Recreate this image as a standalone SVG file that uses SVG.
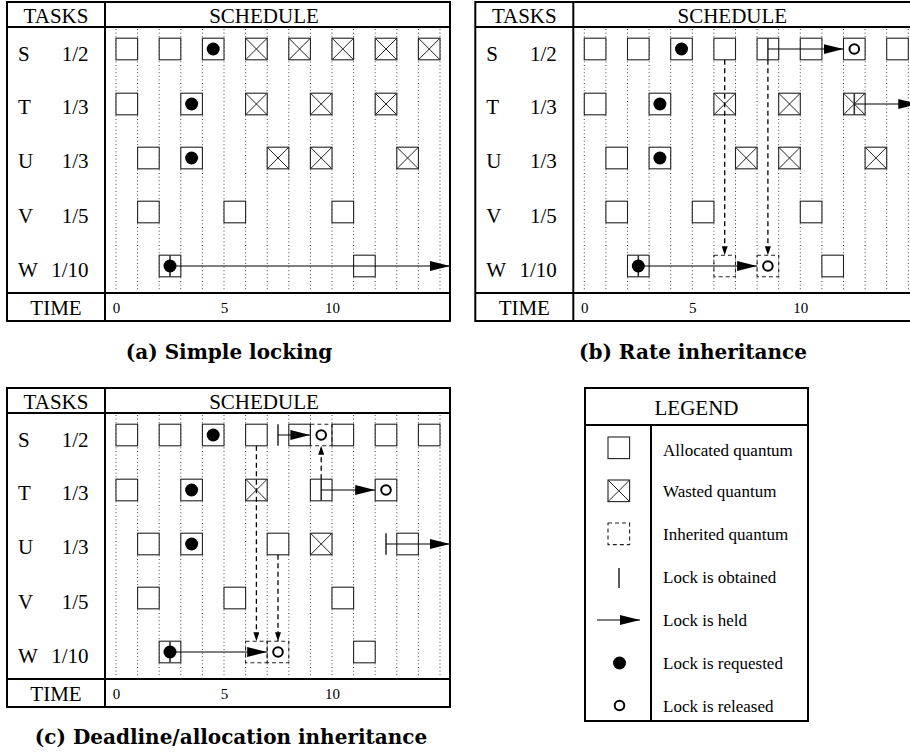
<svg xmlns="http://www.w3.org/2000/svg" xmlns:xlink="http://www.w3.org/1999/xlink" width="910" height="755" viewBox="0 0 910 755">
<style>
.frame{fill:none;stroke:#000;stroke-width:2}
.sep{fill:none;stroke:#000;stroke-width:2}
.grid{fill:none;stroke:#444;stroke-width:1;stroke-dasharray:1 2.6}
.box{fill:#fff;stroke:#222;stroke-width:1.1}
.thin{fill:none;stroke:#222;stroke-width:1}
.inh{fill:none;stroke:#222;stroke-width:1.1;stroke-dasharray:4 3}
.lock{stroke:#333;stroke-width:1.6}
.held{stroke:#000;stroke-width:1.2;fill:none}
.dash{stroke:#000;stroke-width:1.3;fill:none;stroke-dasharray:5 3.5}
.dot{fill:#000}
.rel{fill:#fff;stroke:#000;stroke-width:2}
.hd{font-family:"Liberation Serif","Times New Roman",serif;font-size:21px;fill:#000}
.mid{text-anchor:middle}
.end{text-anchor:end}
.num{font-family:"Liberation Serif","Times New Roman",serif;font-size:15px;fill:#000;text-anchor:middle}
.lg{font-family:"Liberation Serif","Times New Roman",serif;font-size:17px;fill:#000}
.cap{font-family:"DejaVu Serif",serif;font-weight:bold;font-size:20px;fill:#000;text-anchor:middle}
</style>
<defs>
<rect id="qa" width="21.6" height="21.6" class="box"/>
<g id="qx"><rect width="21.6" height="21.6" class="box"/><path d="M0,0L21.6,21.6M21.6,0L0,21.6" class="thin"/></g>
<rect id="qi" width="21.6" height="21.6" class="inh"/>
<marker id="ah" markerUnits="userSpaceOnUse" markerWidth="20" markerHeight="10" viewBox="0 0 20 10" refX="20" refY="5" orient="auto"><path d="M0,0L20,5L0,10z" fill="#000"/></marker>
<marker id="as" markerUnits="userSpaceOnUse" markerWidth="9" markerHeight="6" viewBox="0 0 9 6" refX="9" refY="3" orient="auto"><path d="M0,0L9,3L0,6z" fill="#000"/></marker>
<g id="skel">
<rect x="7" y="2" width="443" height="319" class="frame"/>
<path d="M7,27H450M7,293H450M105,2V321" class="sep"/>
<path class="grid" d="M116,29V291M137.6,29V291M159.2,29V291M180.8,29V291M202.4,29V291M224,29V291M245.6,29V291M267.2,29V291M288.8,29V291M310.4,29V291M332,29V291M353.6,29V291M375.2,29V291M396.8,29V291M418.4,29V291M440,29V291"/>
<text x="56" y="22.5" class="hd mid">TASKS</text>
<text x="264" y="22.5" class="hd mid">SCHEDULE</text>
<text x="18" y="61" class="hd">S</text><text x="88.5" y="61" class="hd end">1/2</text>
<text x="18" y="114" class="hd">T</text><text x="88.5" y="114" class="hd end">1/3</text>
<text x="18" y="168" class="hd">U</text><text x="88.5" y="168" class="hd end">1/3</text>
<text x="18" y="223" class="hd">V</text><text x="88.5" y="223" class="hd end">1/5</text>
<text x="18" y="277" class="hd">W</text><text x="88.5" y="277" class="hd end">1/10</text>
<text x="56" y="315" class="hd mid">TIME</text>
<text x="116.5" y="313" class="num">0</text>
<text x="224.5" y="313" class="num">5</text>
<text x="332.5" y="313" class="num">10</text>
<use xlink:href="#qa" x="137.6" y="201.2"/><use xlink:href="#qa" x="224" y="201.2"/><use xlink:href="#qa" x="332" y="201.2"/>
</g>
</defs>

<g id="panel-a">
<use xlink:href="#skel"/>
<g id="a-S">
<use xlink:href="#qa" x="116" y="38.2"/><use xlink:href="#qa" x="159.2" y="38.2"/><use xlink:href="#qa" x="202.4" y="38.2"/>
<use xlink:href="#qx" x="245.6" y="38.2"/><use xlink:href="#qx" x="288.8" y="38.2"/><use xlink:href="#qx" x="332" y="38.2"/><use xlink:href="#qx" x="375.2" y="38.2"/><use xlink:href="#qx" x="418.4" y="38.2"/>
<circle cx="213.2" cy="49" r="6.5" class="dot"/>
</g>
<g id="a-T">
<use xlink:href="#qa" x="116" y="93.2"/><use xlink:href="#qa" x="180.8" y="93.2"/>
<use xlink:href="#qx" x="245.6" y="93.2"/><use xlink:href="#qx" x="310.4" y="93.2"/><use xlink:href="#qx" x="375.2" y="93.2"/>
<circle cx="191.6" cy="104" r="6.5" class="dot"/>
</g>
<g id="a-U">
<use xlink:href="#qa" x="137.6" y="147.2"/><use xlink:href="#qa" x="180.8" y="147.2"/>
<use xlink:href="#qx" x="267.2" y="147.2"/><use xlink:href="#qx" x="310.4" y="147.2"/><use xlink:href="#qx" x="396.8" y="147.2"/>
<circle cx="191.6" cy="158" r="6.5" class="dot"/>
</g>
<g id="a-W">
<use xlink:href="#qa" x="159.2" y="255.2"/><use xlink:href="#qa" x="353.6" y="255.2"/>
<line x1="170" y1="255.2" x2="170" y2="276.8" class="lock"/>
</g>
<g id="a-connectors">
<line x1="170" y1="266" x2="450" y2="266" class="held" marker-end="url(#ah)"/>
</g>
<circle cx="170" cy="266" r="6.5" class="dot"/>
</g>

<g id="panel-b" transform="translate(468.3,0)">
<use xlink:href="#skel"/>
<g id="b-S">
<use xlink:href="#qa" x="116" y="38.2"/><use xlink:href="#qa" x="159.2" y="38.2"/><use xlink:href="#qa" x="202.4" y="38.2"/>
<use xlink:href="#qa" x="245.6" y="38.2"/><use xlink:href="#qa" x="288.8" y="38.2"/><use xlink:href="#qa" x="332" y="38.2"/><use xlink:href="#qa" x="375.2" y="38.2"/><use xlink:href="#qa" x="418.4" y="38.2"/>
<circle cx="213.2" cy="49" r="6.5" class="dot"/>
<line x1="299.6" y1="38.2" x2="299.6" y2="59.8" class="lock"/>
</g>
<g id="b-T">
<use xlink:href="#qa" x="116" y="93.2"/><use xlink:href="#qa" x="180.8" y="93.2"/>
<use xlink:href="#qx" x="245.6" y="93.2"/><use xlink:href="#qx" x="310.4" y="93.2"/><use xlink:href="#qx" x="375.2" y="93.2"/>
<circle cx="191.6" cy="104" r="6.5" class="dot"/>
<line x1="386" y1="93.2" x2="386" y2="114.8" class="lock"/>
</g>
<g id="b-U">
<use xlink:href="#qa" x="137.6" y="147.2"/><use xlink:href="#qa" x="180.8" y="147.2"/>
<use xlink:href="#qx" x="267.2" y="147.2"/><use xlink:href="#qx" x="310.4" y="147.2"/><use xlink:href="#qx" x="396.8" y="147.2"/>
<circle cx="191.6" cy="158" r="6.5" class="dot"/>
</g>
<g id="b-W">
<use xlink:href="#qa" x="159.2" y="255.2"/><use xlink:href="#qi" x="245.6" y="255.2"/><use xlink:href="#qi" x="288.8" y="255.2"/><use xlink:href="#qa" x="353.6" y="255.2"/>
<line x1="170" y1="255.2" x2="170" y2="276.8" class="lock"/>
</g>
<g id="b-connectors">
<line x1="299.6" y1="49" x2="375.2" y2="49" class="held" marker-end="url(#ah)"/>
<line x1="386" y1="104" x2="450" y2="104" class="held" marker-end="url(#ah)"/>
<line x1="170" y1="266" x2="288.8" y2="266" class="held" marker-end="url(#ah)"/>
<line x1="256.4" y1="59.8" x2="256.4" y2="255.2" class="dash" marker-end="url(#as)"/>
<line x1="299.6" y1="59.8" x2="299.6" y2="255.2" class="dash" marker-end="url(#as)"/>
</g>
<circle cx="170" cy="266" r="6.5" class="dot"/>
<circle cx="386" cy="49" r="4.8" class="rel"/>
<circle cx="299.6" cy="266" r="4.8" class="rel"/>
</g>

<g id="panel-c" transform="translate(0,386)">
<use xlink:href="#skel"/>
<g id="c-S">
<use xlink:href="#qa" x="116" y="38.2"/><use xlink:href="#qa" x="159.2" y="38.2"/><use xlink:href="#qa" x="202.4" y="38.2"/>
<use xlink:href="#qa" x="245.6" y="38.2"/><use xlink:href="#qa" x="288.8" y="38.2"/><use xlink:href="#qa" x="332" y="38.2"/><use xlink:href="#qa" x="375.2" y="38.2"/><use xlink:href="#qa" x="418.4" y="38.2"/>
<use xlink:href="#qi" x="310.4" y="38.2"/>
<circle cx="213.2" cy="49" r="6.5" class="dot"/>
<line x1="278" y1="38.2" x2="278" y2="59.8" class="lock"/>
</g>
<g id="c-T">
<use xlink:href="#qa" x="116" y="93.2"/><use xlink:href="#qa" x="180.8" y="93.2"/>
<use xlink:href="#qx" x="245.6" y="93.2"/><use xlink:href="#qa" x="310.4" y="93.2"/><use xlink:href="#qa" x="375.2" y="93.2"/>
<circle cx="191.6" cy="104" r="6.5" class="dot"/>
<line x1="321.2" y1="93.2" x2="321.2" y2="114.8" class="lock"/>
</g>
<g id="c-U">
<use xlink:href="#qa" x="137.6" y="147.2"/><use xlink:href="#qa" x="180.8" y="147.2"/>
<use xlink:href="#qa" x="267.2" y="147.2"/><use xlink:href="#qx" x="310.4" y="147.2"/><use xlink:href="#qa" x="396.8" y="147.2"/>
<circle cx="191.6" cy="158" r="6.5" class="dot"/>
<line x1="386" y1="147.2" x2="386" y2="168.8" class="lock"/>
</g>
<g id="c-W">
<use xlink:href="#qa" x="159.2" y="255.2"/><use xlink:href="#qi" x="245.6" y="255.2"/><use xlink:href="#qi" x="267.2" y="255.2"/><use xlink:href="#qa" x="353.6" y="255.2"/>
<line x1="170" y1="255.2" x2="170" y2="276.8" class="lock"/>
</g>
<g id="c-connectors">
<line x1="278" y1="49" x2="310.4" y2="49" class="held" marker-end="url(#ah)"/>
<line x1="321.2" y1="104" x2="375.2" y2="104" class="held" marker-end="url(#ah)"/>
<line x1="386" y1="158" x2="450" y2="158" class="held" marker-end="url(#ah)"/>
<line x1="170" y1="266" x2="267.2" y2="266" class="held" marker-end="url(#ah)"/>
<line x1="256.4" y1="59.8" x2="256.4" y2="255.2" class="dash" marker-end="url(#as)"/>
<line x1="278" y1="168.8" x2="278" y2="255.2" class="dash" marker-end="url(#as)"/>
<line x1="321.2" y1="93.2" x2="321.2" y2="59.8" class="dash" marker-end="url(#as)"/>
</g>
<circle cx="170" cy="266" r="6.5" class="dot"/>
<circle cx="321.2" cy="49" r="4.8" class="rel"/>
<circle cx="386" cy="104" r="4.8" class="rel"/>
<circle cx="278" cy="266" r="4.8" class="rel"/>
</g>

<g id="legend">
<rect x="585" y="388" width="223" height="333" class="frame"/>
<path d="M585,425H808M651,425V721" class="sep"/>
<text x="696.5" y="415" class="hd mid">LEGEND</text>
<use xlink:href="#qa" x="608" y="437"/>
<use xlink:href="#qx" x="608" y="480"/>
<use xlink:href="#qi" x="608" y="523"/>
<line x1="619" y1="568" x2="619" y2="588" class="lock"/>
<line x1="597" y1="620" x2="640" y2="620" class="held" marker-end="url(#ah)"/>
<circle cx="619.5" cy="663" r="6.5" class="dot"/>
<circle cx="619.5" cy="705.5" r="4.8" class="rel"/>
<text x="663" y="456" class="lg">Allocated quantum</text>
<text x="663" y="497" class="lg">Wasted quantum</text>
<text x="663" y="540" class="lg">Inherited quantum</text>
<text x="663" y="583" class="lg">Lock is obtained</text>
<text x="663" y="626" class="lg">Lock is held</text>
<text x="663" y="669" class="lg">Lock is requested</text>
<text x="663" y="712" class="lg">Lock is released</text>
</g>

<g id="captions">
<text x="229" y="359" class="cap">(a) Simple locking</text>
<text x="693" y="359" class="cap">(b) Rate inheritance</text>
<text x="231" y="744" class="cap">(c) Deadline/allocation inheritance</text>
</g>
</svg>
